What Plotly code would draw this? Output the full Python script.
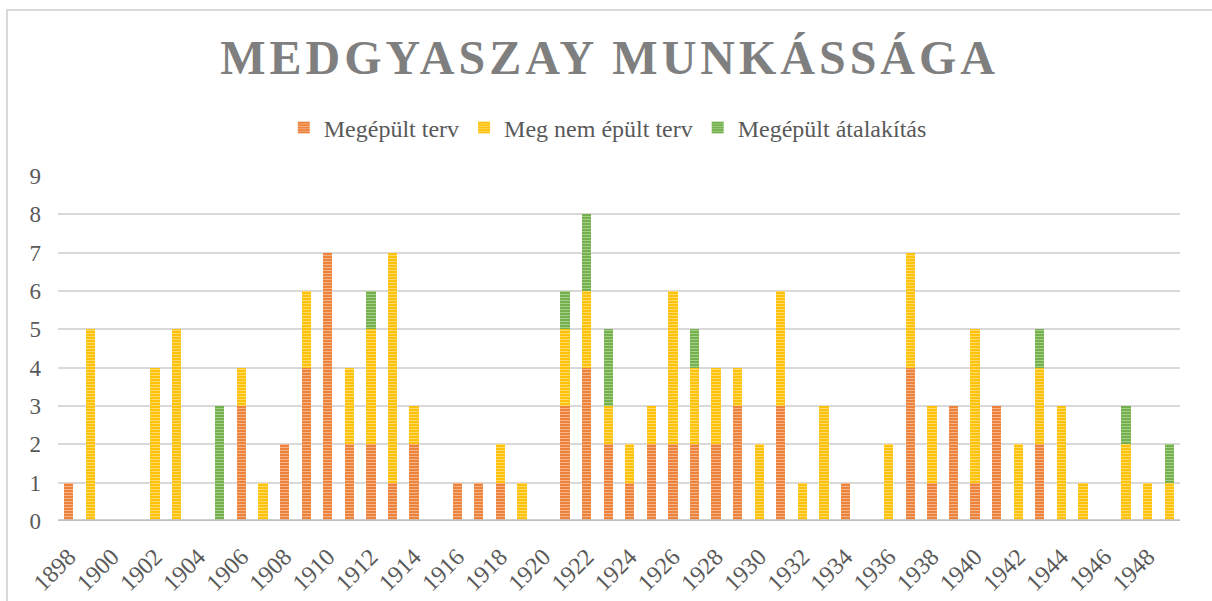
import plotly.graph_objects as go

# Medgyaszay István munkássága évenként
years = list(range(1898, 1950))

built = [1, 0, 0, 0, 0, 0, 0, 0, 3, 0, 2, 4, 7, 2, 2, 1, 2, 0, 1, 1, 1, 0, 0, 3, 4, 2,
         1, 2, 2, 2, 2, 3, 0, 3, 0, 0, 1, 0, 0, 4, 1, 3, 1, 3, 0, 2, 0, 0, 0, 0, 0, 0]
unbuilt = [0, 5, 0, 0, 4, 5, 0, 0, 1, 1, 0, 2, 0, 2, 3, 6, 1, 0, 0, 0, 1, 1, 0, 2, 2, 1,
           1, 1, 4, 2, 2, 1, 2, 3, 1, 3, 0, 0, 2, 3, 2, 0, 4, 0, 2, 2, 3, 1, 0, 2, 1, 1]
remodel = [0, 0, 0, 0, 0, 0, 0, 3, 0, 0, 0, 0, 0, 0, 1, 0, 0, 0, 0, 0, 0, 0, 0, 1, 2, 2,
           0, 0, 0, 1, 0, 0, 0, 0, 0, 0, 0, 0, 0, 0, 0, 0, 0, 0, 0, 1, 0, 0, 0, 1, 0, 1]

series_names = ["Megépült terv", "Meg nem épült terv", "Megépült átalakítás"]
tick_years = list(range(1898, 1950, 2))
tick_labels = [str(y) for y in tick_years]
y_ticks = list(range(0, 10))

W, H = 1212, 601
L, R, T, B = 58, 32, 176, 80
pw, ph = W - L - R, H - T - B

SERIF = "Liberation Serif"
TXT = "#595959"

styles = [
    ("#ED7D31", "#F6B48A"),
    ("#FFC000", "#FFDA6A"),
    ("#70AD47", "#A6CF8A"),
]

fig = go.Figure()
for name, vals, (base, stripe) in zip(series_names, [built, unbuilt, remodel], styles):
    fig.add_trace(go.Bar(
        x=years, y=vals, name=name,
        marker=dict(
            color=base,
            line=dict(width=0),
            pattern=dict(shape="-", bgcolor=base, fgcolor=stripe,
                         fillmode="replace", size=3, solidity=0.4),
        ),
    ))


def px_x(p):
    return (p - L) / pw


def px_y(p):
    return (H - B - p) / ph


fig.update_layout(
    width=W, height=H,
    margin=dict(l=L, r=R, t=T, b=B),
    barmode="stack", bargap=0.57,
    paper_bgcolor="white", plot_bgcolor="white",
    font=dict(family=SERIF, color=TXT),
    title=dict(
        text="<b>MEDGYASZAY MUNKÁSSÁGA</b>",
        font=dict(family=SERIF, size=48, color="#7F7F7F"),
        x=0.503, xanchor="center", xref="container",
        y=1 - 57 / H, yanchor="middle", yref="container",
    ),
    legend=dict(
        orientation="h", x=0.49, xanchor="center",
        y=px_y(128), yanchor="middle", traceorder="normal",
        font=dict(family=SERIF, size=24, color=TXT),
        bgcolor="rgba(0,0,0,0)",
    ),
    xaxis=dict(
        range=[1897.5, 1949.5], tickmode="array",
        tickvals=tick_years, ticktext=tick_labels, tickangle=-45,
        tickfont=dict(family=SERIF, size=24, color=TXT),
        showgrid=False, zeroline=False, showline=False, ticks="",
        ticklabelstandoff=16, automargin=False,
    ),
    yaxis=dict(
        range=[0, 9], tickmode="array", tickvals=y_ticks,
        tickfont=dict(family=SERIF, size=23, color=TXT),
        showgrid=True, gridcolor="#D9D9D9", gridwidth=1.5,
        zeroline=False, showline=False, ticks="", ticklabelstandoff=16,
        automargin=False,
    ),
    shapes=[
        dict(type="line", xref="paper", yref="y", x0=0, x1=1, y0=0, y1=0,
             line=dict(color="#BFBFBF", width=3.5), layer="above"),
        dict(type="rect", xref="paper", yref="paper",
             x0=px_x(7), x1=px_x(1230), y0=px_y(620), y1=px_y(10),
             line=dict(color="#D9D9D9", width=2), fillcolor="rgba(0,0,0,0)"),
    ],
)

letter_spacing = (
    "var s=document.createElement('style');"
    "s.textContent='.gtitle{letter-spacing:4px}';"
    "document.head.appendChild(s);"
)

fig.write_html("out.html", post_script=letter_spacing)
